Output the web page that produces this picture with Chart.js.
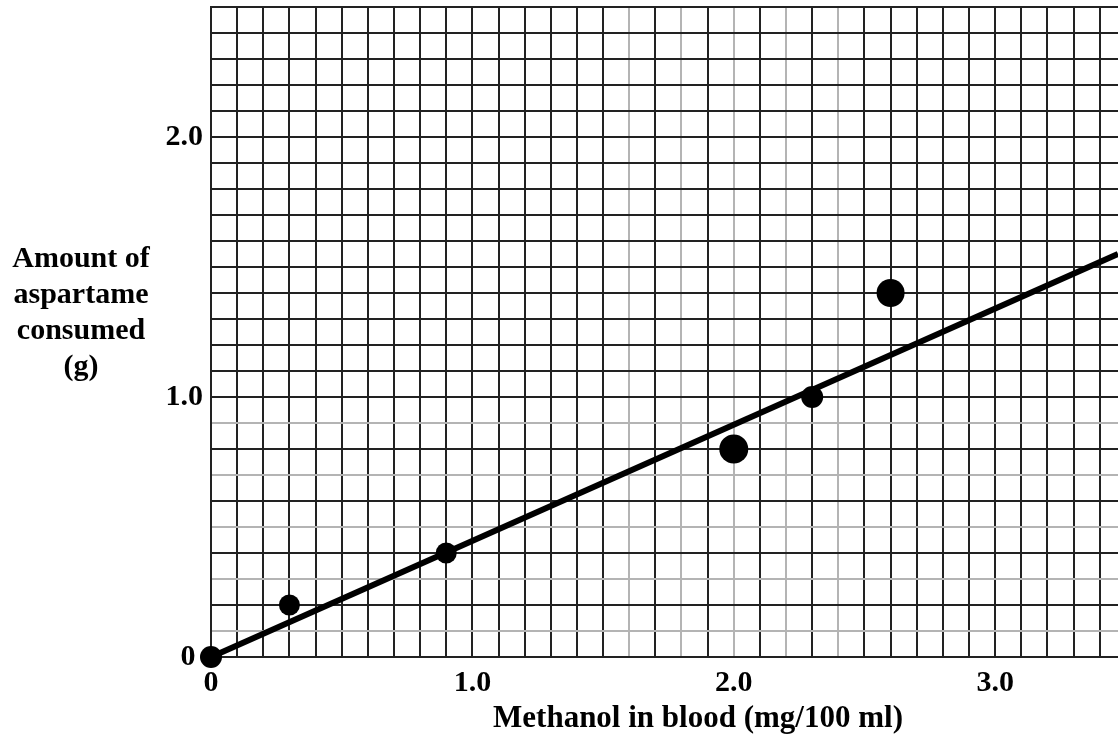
<!DOCTYPE html>
<html>
<head>
<meta charset="utf-8">
<script src="https://cdn.jsdelivr.net/npm/chart.js@4.4.1/dist/chart.umd.min.js"></script>
<style>
  html, body { margin: 0; padding: 0; background: #fff; }
</style>
</head>
<body>
<canvas id="chart" width="1118" height="738"></canvas>
<script>
// measured points
const methanol = [0, 0.3, 0.9, 2.0, 2.3, 2.6];
const aspartame = [0, 0.2, 0.4, 0.8, 1.0, 1.4];

// best-fit line end points
const fitX = [0, 3.47];
const fitY = [0, 1.55];

// only these ticks carry a label
const xLabeled = [0, 1, 2, 3];
const yLabeled = [0, 1, 2];

// faint lines on the scanned graph paper
const grayX = [1.6, 1.8, 2.0, 2.2, 2.4];
const grayY = [0.1, 0.3, 0.5, 0.7, 0.9];

const xTitle = "Methanol in blood (mg/100 ml)";
const yTitle = ["Amount of", "aspartame", "consumed", "(g)"];

const serif = "'Liberation Serif', 'DejaVu Serif', serif";

function has(list, v) {
  return list.some((d) => Math.abs(d - v) < 1e-6);
}

function tenths(maxTenths) {
  const out = [];
  for (let k = 0; k <= maxTenths; k++) out.push({ value: k / 10 });
  return out;
}

// zero gets a trailing space on the y axis so it clears the origin dot
function tickText(list, zero) {
  return (value) => {
    if (!has(list, value)) return "";
    return value === 0 ? zero : value.toFixed(1);
  };
}

// axis titles sit off-centre in the original, so they are placed by hand
const axisTitles = {
  id: "axisTitles",
  afterDraw(chart) {
    const ctx = chart.ctx;
    ctx.save();
    ctx.fillStyle = "#000";
    ctx.textAlign = "center";
    ctx.textBaseline = "middle";
    ctx.font = "bold 30px " + serif;
    yTitle.forEach((line, i) => {
      ctx.fillText(line, 81, 259 + i * 36);
    });
    ctx.font = "bold 31px " + serif;
    ctx.fillText(xTitle, 698, 719);
    ctx.restore();
  },
};

const ctx = document.getElementById("chart").getContext("2d");

new Chart(ctx, {
  type: "scatter",
  data: {
    datasets: [
      {
        label: "Measured",
        data: methanol.map((x, i) => ({ x: x, y: aspartame[i] })),
        backgroundColor: "#000",
        borderWidth: 0,
        pointRadius: [11, 10.5, 10.5, 14.5, 11, 14],
        clip: false,
      },
      {
        type: "line",
        label: "Fit",
        data: fitX.map((x, i) => ({ x: x, y: fitY[i] })),
        borderColor: "#000",
        borderWidth: 6,
        pointRadius: 0,
        fill: false,
      },
    ],
  },
  options: {
    responsive: false,
    animation: false,
    layout: { autoPadding: false, padding: { top: 7, right: 0, left: 0, bottom: 0 } },
    plugins: {
      legend: { display: false },
      tooltip: { enabled: false },
    },
    scales: {
      x: {
        type: "linear",
        min: 0,
        max: 3.47,
        afterBuildTicks: (scale) => {
          scale.ticks = tenths(34);
        },
        afterFit: (scale) => {
          scale.height = 81;
          scale.paddingLeft = 0;
          scale.paddingRight = 0;
        },
        grid: {
          drawTicks: false,
          color: (c) => (c.tick && has(grayX, c.tick.value) ? "#b4b4b4" : "#222"),
          lineWidth: 2,
        },
        border: { color: "#222", width: 2 },
        ticks: {
          padding: 8,
          maxRotation: 0,
          autoSkip: false,
          color: "#000",
          font: { family: serif, size: 30, weight: "bold" },
          callback: tickText(xLabeled, "0"),
        },
      },
      y: {
        type: "linear",
        min: 0,
        max: 2.5,
        afterBuildTicks: (scale) => {
          scale.ticks = tenths(25);
        },
        afterFit: (scale) => {
          scale.width = 211;
          scale.paddingTop = 0;
          scale.paddingBottom = 0;
        },
        grid: {
          drawTicks: false,
          color: (c) => (c.tick && has(grayY, c.tick.value) ? "#b4b4b4" : "#222"),
          lineWidth: 2,
        },
        border: { color: "#222", width: 2 },
        ticks: {
          padding: 8,
          autoSkip: false,
          color: "#000",
          font: { family: serif, size: 30, weight: "bold" },
          callback: tickText(yLabeled, "0 "),
        },
      },
    },
  },
  plugins: [axisTitles],
});
</script>
</body>
</html>
